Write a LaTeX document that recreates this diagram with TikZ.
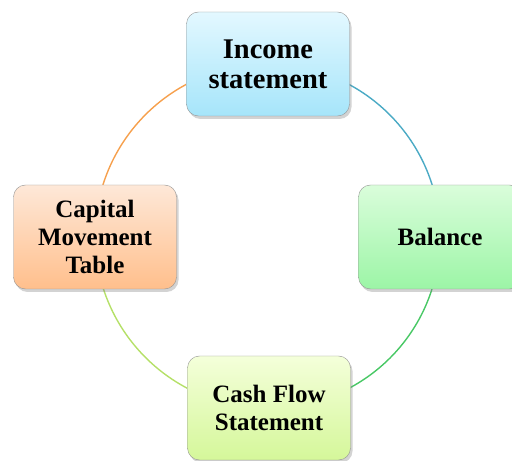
\documentclass[tikz,border=0pt]{standalone}
\usepackage{fontspec}
\setmainfont{Liberation Serif}
\usetikzlibrary{shadows,backgrounds}
\definecolor{incometop}{HTML}{E3F8FF}
\definecolor{incomebot}{HTML}{A6E5FA}
\definecolor{capitaltop}{HTML}{FEE8D8}
\definecolor{capitalbot}{HTML}{FFBF8C}
\definecolor{balancetop}{HTML}{DAFDDB}
\definecolor{balancebot}{HTML}{9CF5A6}
\definecolor{cashtop}{HTML}{F4FFDA}
\definecolor{cashbot}{HTML}{D5F79A}
\definecolor{arcorange}{HTML}{F6A04D}
\definecolor{arcblue}{HTML}{4BAAC5}
\definecolor{arcgreen}{HTML}{48C865}
\definecolor{arclime}{HTML}{B5E068}

\begin{document}
\begin{tikzpicture}[x=1pt,y=1pt,
		box/.style={draw=gray!85,rounded corners=12pt,minimum width=163pt,minimum height=104pt,align=center,
			font=\fontsize{25}{28}\selectfont\bfseries,
			drop shadow={opacity=0.35,shadow xshift=2pt,shadow yshift=-3pt}},
		link/.style={line width=1.4pt}]
		\clip (0,0) rectangle (512,461);
		%Boxes
		\node[box,top color=incometop,bottom color=incomebot,font=\fontsize{28.5}{30}\selectfont\bfseries] (income) at (268,397) {Income\\statement};
		\node[box,top color=capitaltop,bottom color=capitalbot] (capital) at (95,224) {Capital\\Movement\\Table};
		\node[box,top color=balancetop,bottom color=balancebot] (balance) at (440,224) {Balance};
		\node[box,top color=cashtop,bottom color=cashbot] (cash) at (269,53) {Cash Flow\\Statement};
		%Circle
		\begin{scope}[on background layer]
			\draw[link,color=arcorange] (income.center) to[bend right=45] (capital.center);
			\draw[link,color=arclime] (capital.center) to[bend right=45] (cash.center);
			\draw[link,color=arcgreen] (cash.center) to[bend right=45] (balance.center);
			\draw[link,color=arcblue] (balance.center) to[bend right=45] (income.center);
		\end{scope}
\end{tikzpicture}
\end{document}
